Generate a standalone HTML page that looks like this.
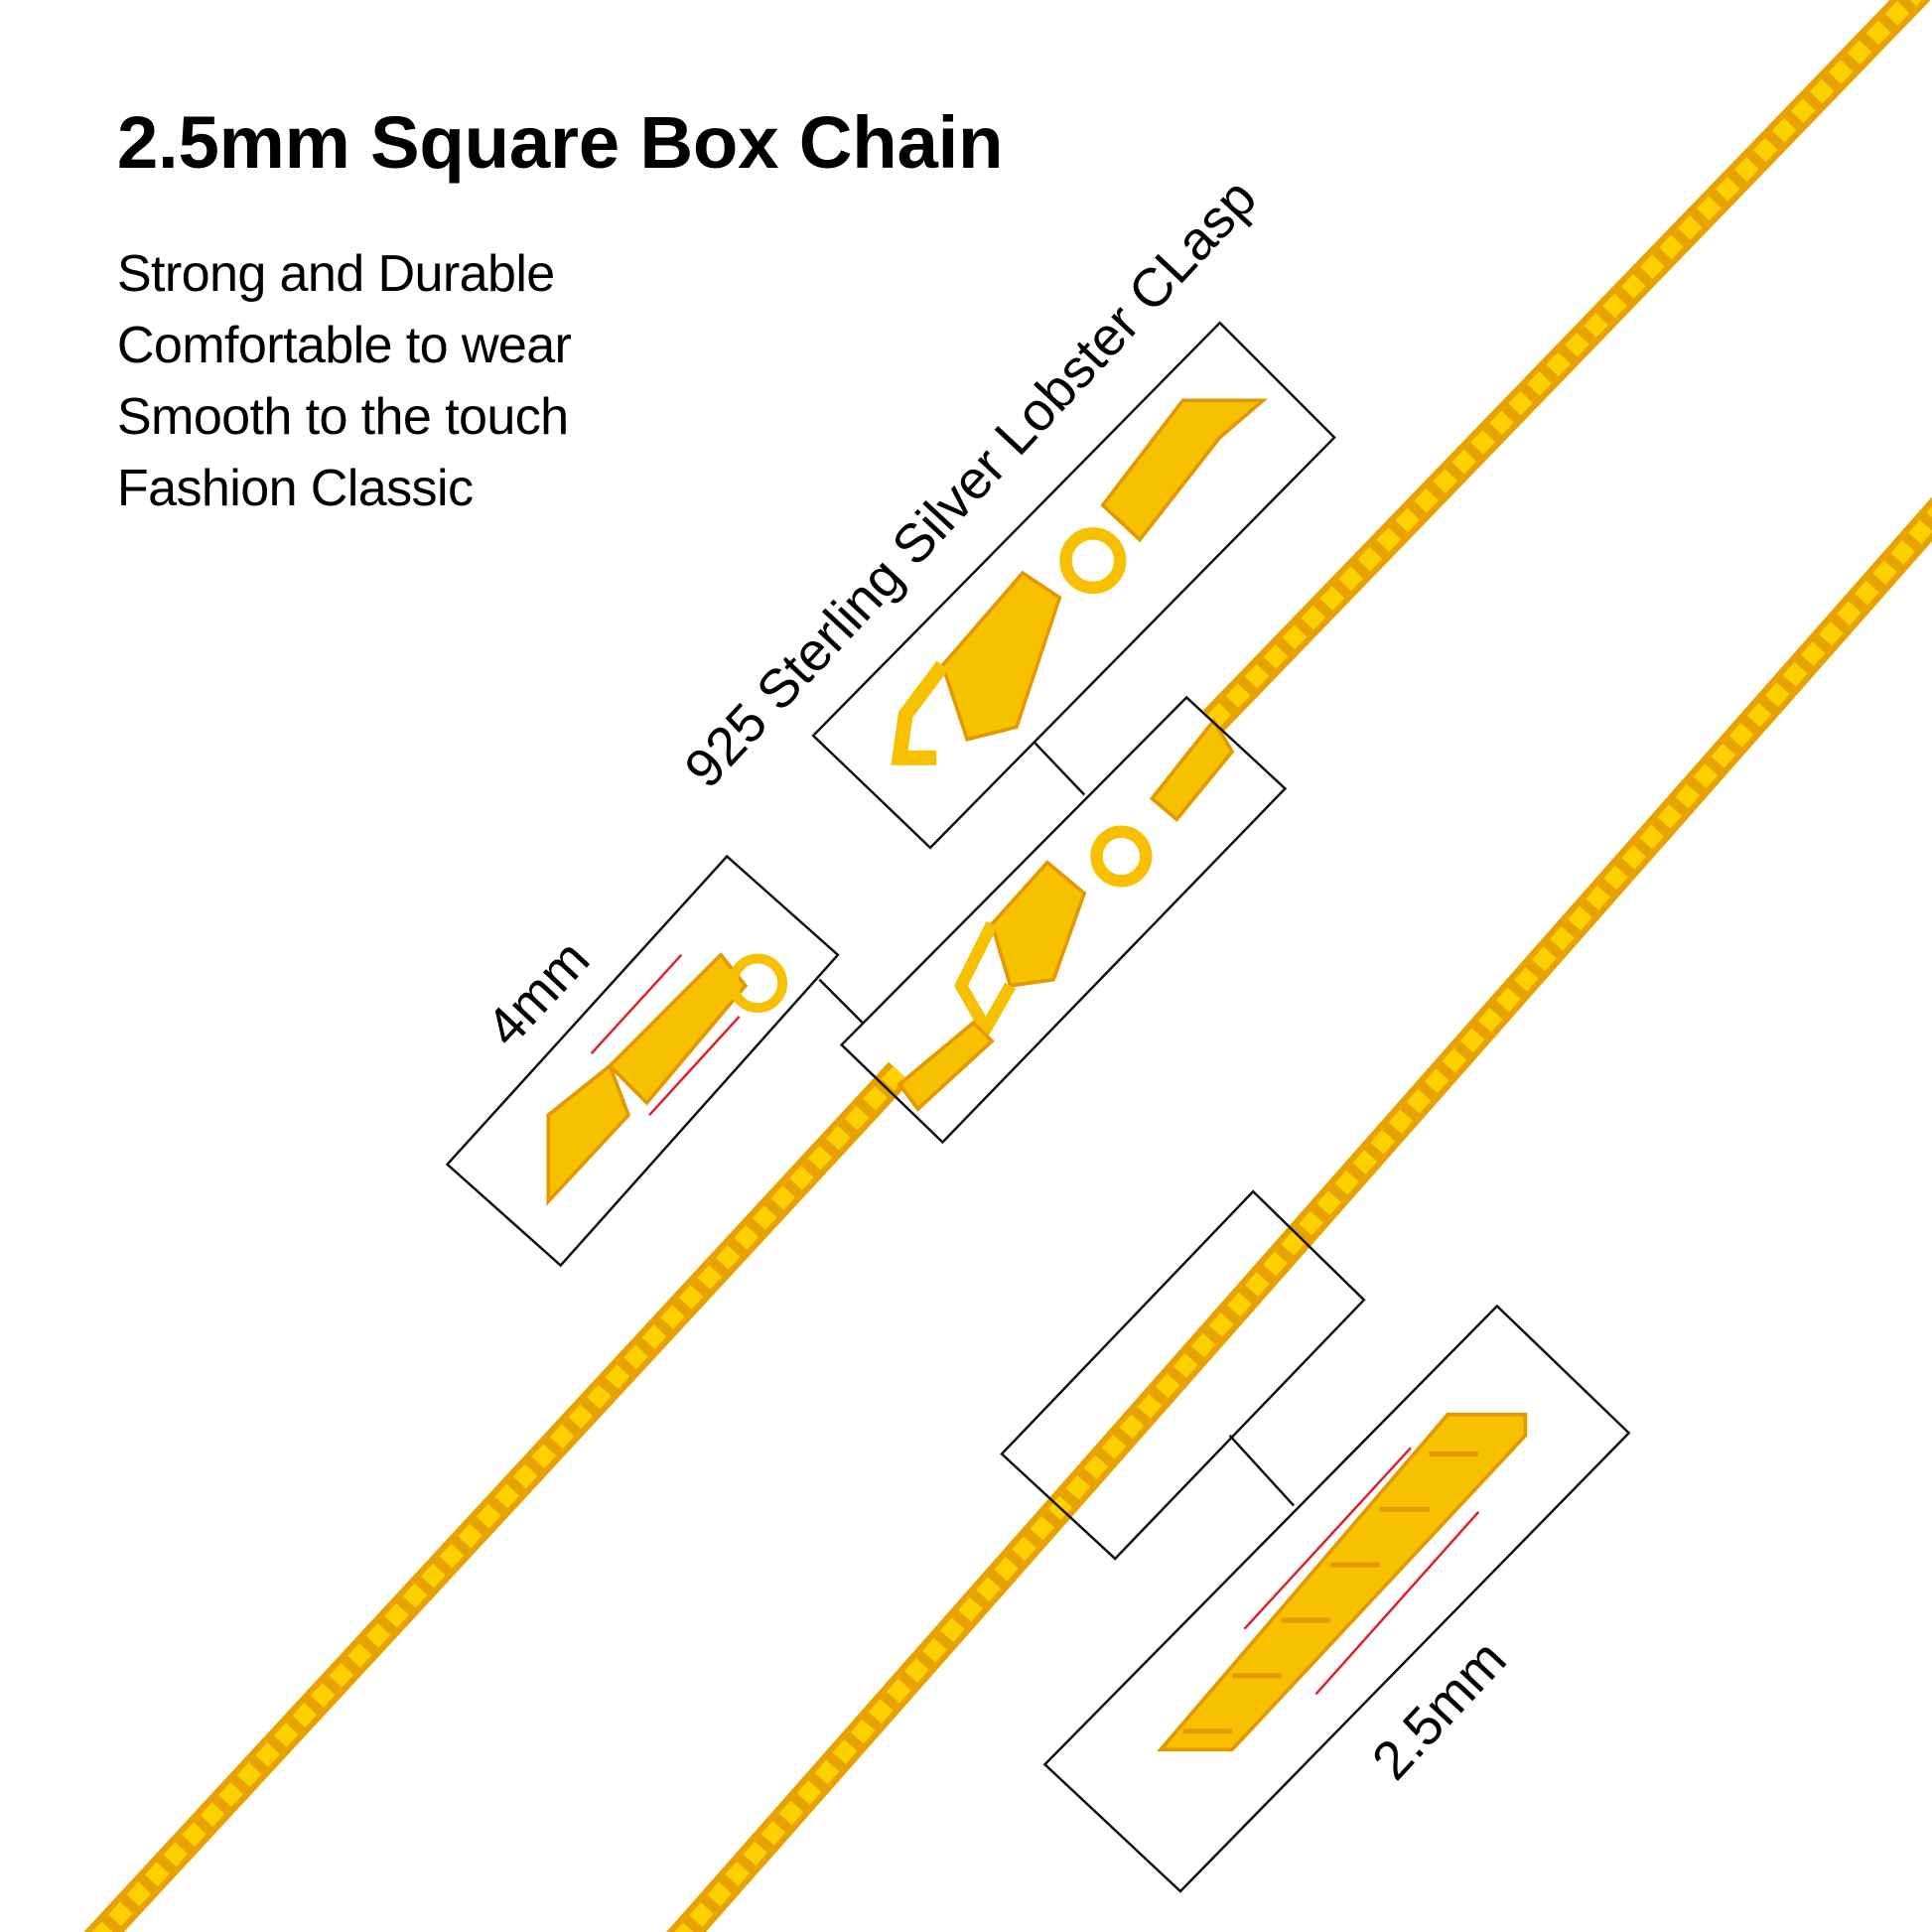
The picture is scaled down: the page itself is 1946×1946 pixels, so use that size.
<!DOCTYPE html>
<html><head><meta charset="utf-8"><style>
html,body{margin:0;padding:0;background:#fff;}
svg{display:block;}
</style></head><body>
<svg width="1946" height="1946" viewBox="0 0 1568 1568" xmlns="http://www.w3.org/2000/svg">
<rect width="1568" height="1568" fill="#fff"/>
<g style="font-family:'Liberation Sans',sans-serif" fill="#000">
<text x="95" y="136" font-size="60" font-weight="bold" letter-spacing="-0.2">2.5mm Square Box Chain</text>
<text x="95" y="236" font-size="42" letter-spacing="-0.5">Strong and Durable</text>
<text x="95" y="294" font-size="42" letter-spacing="-0.5">Comfortable to wear</text>
<text x="95" y="352" font-size="42" letter-spacing="-0.5">Smooth to the touch</text>
<text x="95" y="410" font-size="42" letter-spacing="-0.5">Fashion Classic</text>
<text transform="translate(575,642) rotate(-47)" font-size="44">925 Sterling Silver Lobster CLasp</text>
<text transform="translate(414,852) rotate(-47)" font-size="44">4mm</text>
<text transform="translate(1133,1447) rotate(-47)" font-size="44">2.5mm</text>
</g>
<g fill="none" stroke-linecap="butt">
<path d="M1560,-10 L985,585" stroke="#e8a200" stroke-width="24"/>
<path d="M1560,-10 L985,585" stroke="#ffd000" stroke-width="14" stroke-dasharray="14 8"/>
<path d="M730,870 L75,1578" stroke="#e8a200" stroke-width="24"/>
<path d="M730,870 L75,1578" stroke="#ffd000" stroke-width="14" stroke-dasharray="14 8"/>
<path d="M1578,410 L548,1578" stroke="#e8a200" stroke-width="24"/>
<path d="M1578,410 L548,1578" stroke="#ffd000" stroke-width="14" stroke-dasharray="14 8"/>
</g>
<g stroke="#e39a00" stroke-width="3" fill="#f7c000">
<path d="M985,585 L1000,610 L955,665 L935,648 Z"/>
<circle cx="910" cy="695" r="20" fill="none" stroke="#f7c000" stroke-width="10"/>
<path d="M880,725 L850,700 L805,750 L820,800 L855,795 Z"/>
<path d="M805,750 L780,800 L800,835 L820,800" fill="none" stroke="#f7c000" stroke-width="10"/>
<path d="M790,830 L730,880 L745,900 L805,845 Z"/>
</g>
<g stroke="#e39a00" stroke-width="3" fill="#f7c000">
<path d="M1025,325 L960,325 L895,410 L925,438 L990,355 Z"/>
<circle cx="887" cy="455" r="22" fill="none" stroke="#f7c000" stroke-width="10"/>
<path d="M860,485 L830,465 L765,540 L785,600 L825,590 Z"/>
<path d="M765,540 L735,580 L730,615 L760,615" fill="none" stroke="#f7c000" stroke-width="12"/>
</g>
<g stroke="#e39a00" stroke-width="3" fill="#f7c000">
<path d="M585,775 L495,865 L525,895 L605,800 Z"/>
<circle cx="615" cy="798" r="20" fill="none" stroke="#f7c000" stroke-width="8"/>
<path d="M495,865 L445,905 L445,975 L510,905 Z"/>
</g>
<g stroke="#e39a00" stroke-width="3" fill="#f7c000">
<path d="M1175,1148 L1238,1148 L1238,1165 L1000,1420 L942,1420 Z"/>
</g>
<g stroke="#e39a00" stroke-width="4" fill="none">
<path d="M1160,1180 L1200,1180 M1120,1225 L1160,1225 M1080,1270 L1120,1270 M1040,1315 L1080,1315 M1000,1360 L1040,1360 M960,1405 L1000,1405"/>
</g>
<g stroke="#e0202a" stroke-width="2">
<line x1="480" y1="855" x2="553" y2="775"/>
<line x1="527" y1="905" x2="600" y2="825"/>
<line x1="1010" y1="1322" x2="1145" y2="1175"/>
<line x1="1068" y1="1375" x2="1200" y2="1227"/>
</g>
<g fill="none" stroke="#111" stroke-width="2">
<polygon points="990,262 1083,355 755,688 660,597"/>
<polygon points="963,566 1043,640 765,927 683,848"/>
<polygon points="590,695 680,775 455,1027 363,945"/>
<polygon points="1017,967 1107,1055 905,1265 813,1180"/>
<polygon points="1215,1060 1322,1163 958,1535 848,1432"/>
<line x1="840" y1="603" x2="880" y2="645"/>
<line x1="665" y1="795" x2="700" y2="830"/>
<line x1="998" y1="1165" x2="1050" y2="1222"/>
</g>
</svg>
</body></html>
